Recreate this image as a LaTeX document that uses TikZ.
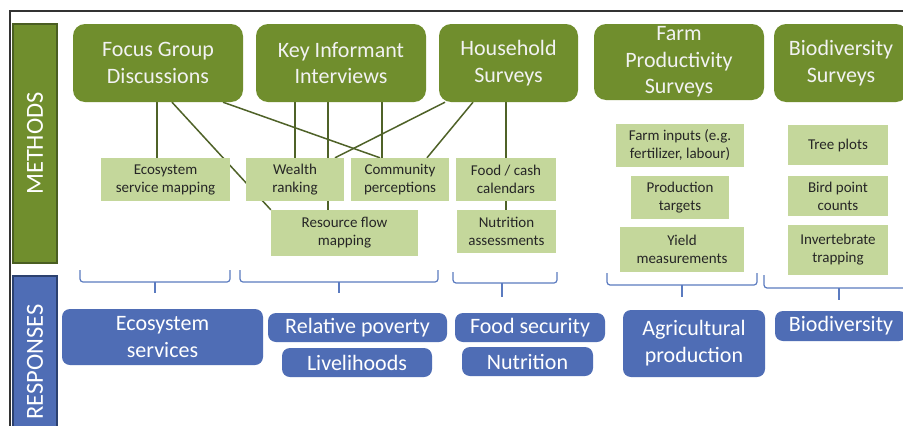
\documentclass[tikz,border=0pt]{standalone}
\usepackage{fontspec}
\setmainfont{Carlito}
\usetikzlibrary{backgrounds}
\definecolor{olive}{HTML}{708E2D}
\definecolor{olivedark}{HTML}{4A5E22}
\definecolor{lightolive}{HTML}{C4D79B}
\definecolor{respblue}{HTML}{4F6DB5}
\definecolor{respdark}{HTML}{2C416F}
\definecolor{bracecol}{HTML}{5B7BC0}
\definecolor{connol}{HTML}{4F6228}
\tikzset{
  topbox/.style={draw=none, fill=olive, rounded corners=12pt, inner sep=0pt, align=center,
    text=white!95!black, font=\fontsize{22}{26.5}\selectfont},
  subbox/.style={draw=none, fill=lightolive, inner sep=0pt, align=center,
    text=black!85, font=\fontsize{15}{18}\selectfont},
  respbox/.style={draw=none, fill=respblue, rounded corners=8pt, inner sep=0pt, align=center,
    text=white, font=\fontsize{22}{27}\selectfont},
  sidebar/.style={inner sep=0pt, line width=1.5pt, text=white, font=\fontsize{24}{28}\selectfont},
  conn/.style={draw=connol, line width=1.5pt},
  bracket/.style={draw=bracecol, line width=1.2pt, rounded corners=3pt},
}
\begin{document}
\begin{tikzpicture}[x=1pt,y=-1pt]
\clip (0,0) rectangle (903,426);
\begin{pgfonlayer}{background}
\fill[white] (0,0) rectangle (903,426);
\end{pgfonlayer}
% outer frame
\draw[line width=2pt, color=black!80] (10,440) -- (10,11) -- (920,11);
% side bars
\node[sidebar, fill=olive, draw=olivedark, minimum width=44pt, minimum height=239pt] (methods) at (35,143.5) {};
\node[rotate=90, text=white, font=\fontsize{24.5}{28}\selectfont] (methodslbl) at (methods.center) {METHODS};
\node[sidebar, fill=respblue, draw=respdark, minimum width=44pt, minimum height=172pt] (responses) at (35,362) {};
\node[rotate=90, text=white, font=\fontsize{24.5}{28}\selectfont] (responseslbl) at (responses.center) {RESPONSES};
% top method boxes
\node[topbox, minimum width=170pt, minimum height=78pt] (fgd) at (158,63) {Focus Group\\Discussions};
\node[topbox, minimum width=170pt, minimum height=78pt] (kii) at (341,63) {Key Informant\\Interviews};
\node[topbox, minimum width=139pt, minimum height=78pt] (hhs) at (508.5,63) {Household\\Surveys};
\node[topbox, minimum width=170pt, minimum height=76pt] (fps) at (679,62) {Farm\\Productivity\\Surveys};
\node[topbox, minimum width=134pt, minimum height=78pt] (bds) at (841,63) {Biodiversity\\Surveys};
% sub boxes
\node[subbox, minimum width=129pt, minimum height=43pt] (esm) at (165.5,179.5) {Ecosystem\\service mapping};
\node[subbox, minimum width=98pt, minimum height=43pt] (wr) at (295,179.5) {Wealth\\ranking};
\node[subbox, minimum width=98pt, minimum height=43pt] (cp) at (400,179.5) {Community\\perceptions};
\node[subbox, minimum width=147pt, minimum height=46pt] (rfm) at (344.5,233) {Resource flow\\mapping};
\node[subbox, minimum width=100pt, minimum height=43pt] (fcc) at (506,179.5) {Food / cash\\calendars};
\node[subbox, minimum width=99pt, minimum height=43pt] (na) at (506.5,231.5) {Nutrition\\assessments};
\node[subbox, minimum width=128pt, minimum height=43pt] (fi) at (680,145.5) {Farm inputs (e.g.\\fertilizer, labour)};
\node[subbox, minimum width=98pt, minimum height=43pt] (pt) at (680,197.5) {Production\\targets};
\node[subbox, minimum width=124pt, minimum height=45pt] (ym) at (682,249.5) {Yield\\measurements};
\node[subbox, minimum width=100pt, minimum height=40pt] (tp) at (838,145) {Tree plots};
\node[subbox, minimum width=100pt, minimum height=40pt] (bpc) at (838,196) {Bird point\\counts};
\node[subbox, minimum width=100pt, minimum height=50pt] (it) at (838,250) {Invertebrate\\trapping};
% connectors (behind the boxes)
\begin{pgfonlayer}{background}
\draw[conn] ([xshift=-1pt]fgd.south) -- ([xshift=-1pt]fgd.south |- esm.north);
\draw[conn] ([xshift=14pt]fgd.south) -- (rfm.north west);
\draw[conn] ([xshift=65pt]fgd.south) -- ([xshift=-20pt]cp.north);
\draw[conn] ([xshift=-46pt]kii.south) -- (wr.north);
\draw[conn] ([xshift=-13pt]kii.south) -- ([xshift=-13pt]kii.south |- rfm.north);
\draw[conn] ([xshift=41pt]kii.south) -- ([xshift=41pt]kii.south |- cp.north);
\draw[conn] ([xshift=-63.5pt]hhs.south) -- ([xshift=40pt]wr.north);
\draw[conn] ([xshift=-35.5pt]hhs.south) -- ([xshift=27pt]cp.north);
\draw[conn] ([xshift=-2.5pt]hhs.south) -- ([xshift=-2.5pt]hhs.south |- na.north);
\end{pgfonlayer}
% brackets
\draw[bracket] (80,270) -- (80,282) -- (230,282) -- (230,270);
\draw[bracecol, line width=1.2pt] (155,282) -- (155,293);
\draw[bracket] (240,270) -- (240,282) -- (438,282) -- (438,270);
\draw[bracecol, line width=1.2pt] (339,282) -- (339,293);
\draw[bracket] (453,272) -- (453,283) -- (557,283) -- (557,272);
\draw[bracecol, line width=1.2pt] (502,283) -- (502,297);
\draw[bracket] (607,273) -- (607,285) -- (757,285) -- (757,273);
\draw[bracecol, line width=1.2pt] (682,285) -- (682,297);
\draw[bracket] (764,275) -- (764,288) -- (915,288) -- (915,275);
\draw[bracecol, line width=1.2pt] (839,288) -- (839,300);
% response boxes
\node[respbox, minimum width=201pt, minimum height=56pt] (es) at (162.5,337) {Ecosystem\\services};
\node[respbox, minimum width=179pt, minimum height=29pt] (rp) at (357.5,327.5) {Relative poverty};
\node[respbox, minimum width=150pt, minimum height=29pt] (lv) at (357,362.5) {Livelihoods};
\node[respbox, minimum width=150pt, minimum height=29pt] (fs) at (530,327.5) {Food security};
\node[respbox, minimum width=131pt, minimum height=29pt] (nu) at (527.5,361.5) {Nutrition};
\node[respbox, minimum width=142pt, minimum height=67pt] (ap) at (694,343.5) {Agricultural\\production};
\node[respbox, minimum width=132pt, minimum height=30pt] (bd) at (841,326) {Biodiversity};
\end{tikzpicture}
\end{document}
